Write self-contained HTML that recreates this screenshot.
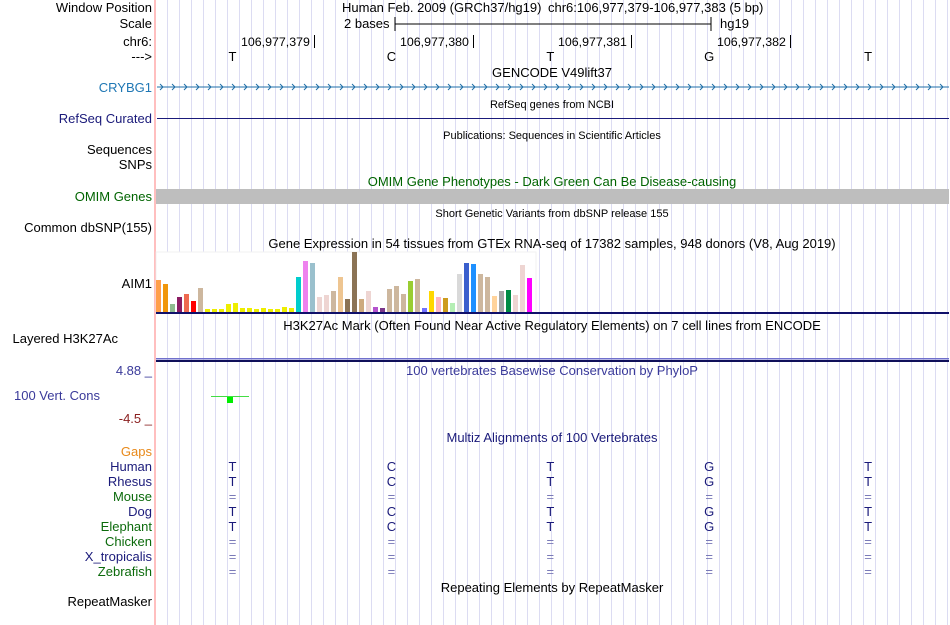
<!DOCTYPE html>
<html><head><meta charset="utf-8"><style>
html,body{margin:0;padding:0;background:#fff;}
svg{display:block;font-family:"Liberation Sans",sans-serif;}
</style></head><body>
<svg id="s" width="950" height="625">
<g id="grid"></g>
<line x1="155" y1="0" x2="155" y2="625" stroke="#ffaaaa" stroke-width="1.5"/>
<g font-size="13" text-anchor="end">
<text x="152" y="12" fill="#000">Window Position</text>
<text x="152" y="28" fill="#000">Scale</text>
<text x="152" y="46" fill="#000">chr6:</text>
<text x="152" y="61" fill="#000">---&gt;</text>
<text x="152" y="92" fill="#1f77b4">CRYBG1</text>
<text x="152" y="123" fill="#1a1a7a">RefSeq Curated</text>
<text x="152" y="154" fill="#000">Sequences</text>
<text x="152" y="169" fill="#000">SNPs</text>
<text x="152" y="201" fill="#006400">OMIM Genes</text>
<text x="152" y="232" fill="#000">Common dbSNP(155)</text>
<text x="152" y="288" fill="#000">AIM1</text>
<text x="118" y="343" fill="#000" text-anchor="end">Layered H3K27Ac</text>
<text x="152" y="375" fill="#3a3a9a">4.88 _</text>
<text x="100" y="400" fill="#3a3a9a">100 Vert. Cons</text>
<text x="152" y="423" fill="#8b2020">-4.5 _</text>
<text x="152" y="456" fill="#e8891a">Gaps</text>
<text x="152" y="471" fill="#1a1a7a">Human</text>
<text x="152" y="486" fill="#1a1a7a">Rhesus</text>
<text x="152" y="501" fill="#0b6a0b">Mouse</text>
<text x="152" y="516" fill="#1a1a7a">Dog</text>
<text x="152" y="531" fill="#0b6a0b">Elephant</text>
<text x="152" y="546" fill="#0b6a0b">Chicken</text>
<text x="152" y="561" fill="#1a1a7a">X_tropicalis</text>
<text x="152" y="576" fill="#0b6a0b">Zebrafish</text>
<text x="152" y="606" fill="#000">RepeatMasker</text>
</g>
<g font-size="13" fill="#000">
<text x="342" y="12">Human Feb. 2009 (GRCh37/hg19)</text>
<text x="548" y="12">chr6:106,977,379-106,977,383 (5 bp)</text>
<text x="344" y="28">2 bases</text>
<line x1="395" y1="24" x2="711" y2="24" stroke="#000"/>
<line x1="395" y1="17" x2="395" y2="31" stroke="#000"/>
<line x1="711" y1="17" x2="711" y2="31" stroke="#000"/>
<text x="720" y="28">hg19</text>
<g font-size="12.4">
<text x="241" y="46">106,977,379</text><line x1="314.5" y1="35" x2="314.5" y2="48" stroke="#000"/>
<text x="400" y="46">106,977,380</text><line x1="473.5" y1="35" x2="473.5" y2="48" stroke="#000"/>
<text x="558" y="46">106,977,381</text><line x1="631.5" y1="35" x2="631.5" y2="48" stroke="#000"/>
<text x="717" y="46">106,977,382</text><line x1="790.5" y1="35" x2="790.5" y2="48" stroke="#000"/>
</g>
</g>
<g id="bases" font-size="13" text-anchor="middle"></g>
<g font-size="13" text-anchor="middle">
<text x="552" y="77" fill="#000">GENCODE V49lift37</text>
<text x="552" y="108" font-size="11" fill="#000">RefSeq genes from NCBI</text>
<text x="552" y="139" font-size="11" fill="#000">Publications: Sequences in Scientific Articles</text>
<text x="552" y="186" fill="#006400">OMIM Gene Phenotypes - Dark Green Can Be Disease-causing</text>
<text x="552" y="217" font-size="11" fill="#000">Short Genetic Variants from dbSNP release 155</text>
<text x="552" y="248" fill="#000">Gene Expression in 54 tissues from GTEx RNA-seq of 17382 samples, 948 donors (V8, Aug 2019)</text>
<text x="552" y="330" fill="#000">H3K27Ac Mark (Often Found Near Active Regulatory Elements) on 7 cell lines from ENCODE</text>
<text x="552" y="375" fill="#3a3a9a">100 vertebrates Basewise Conservation by PhyloP</text>
<text x="552" y="442" fill="#1a1a7a">Multiz Alignments of 100 Vertebrates</text>
<text x="552" y="592" fill="#000">Repeating Elements by RepeatMasker</text>
</g>
<line x1="157" y1="87" x2="949" y2="87" stroke="#1f6fa8"/>
<g id="chev" stroke="#1f6fa8" fill="none"></g>
<line x1="157" y1="118.5" x2="949" y2="118.5" stroke="#1a1a7a"/>
<rect x="156" y="189" width="793" height="15" fill="#bebebe"/>
<rect x="156" y="252" width="380" height="61" fill="#fff" stroke="#f2f2f2"/>
<g id="gtex"></g>
<rect x="156" y="312" width="793" height="2" fill="#10106a"/>
<rect x="156" y="358" width="793" height="1.5" fill="#7070cc"/>
<rect x="156" y="360" width="793" height="2" fill="#10105a"/>
<line x1="211" y1="396.5" x2="249" y2="396.5" stroke="#44dd44"/>
<rect x="227" y="397" width="6" height="6" fill="#00ee00"/>
<g id="aln" font-size="13" text-anchor="middle"></g>
</svg>
<script>
const NS="http://www.w3.org/2000/svg";
const baseSeq=["T","C","T","G","T"];
const species=["Human","Rhesus","Mouse","Dog","Elephant","Chicken","X_tropicalis","Zebrafish"];
const speciesAln=["TCTGT","TCTGT","=====","TCTGT","TCTGT","=====","=====","====="];
const gtexValues=[32,28,8,15,18,11,24,3,3,3,8,9,4,4,3,4,3,3,5,4,35,51,49,15,17,21,35,13,60,13,21,5,4,23,26,18,31,33,4,21,15,14,9,38,49,48,38,35,16,21,22,17,47,34];
const gtexColors=["#ff9e4a","#f0960a","#8fbc8f","#8b1c62","#ee6a50","#ff0000","#cdb79e","#eeee00","#eeee00","#eeee00","#eeee00","#eeee00","#eeee00","#eeee00","#eeee00","#eeee00","#eeee00","#eeee00","#eeee00","#eeee00","#00cdcd","#ee82ee","#9ac0cd","#eed5d2","#eed5d2","#cdb79e","#eec591","#8b7355","#8b7355","#cdaa7d","#eed5d2","#b452cd","#7a378b","#cdb79e","#cdb79e","#cdb79e","#9acd32","#cdb79e","#7171ff","#ffd700","#ffb6c1","#cd9b1d","#b4eeb4","#d9d9d9","#3a5fcd","#1e90ff","#cdb79e","#cdb79e","#ffd39b","#a6a6a6","#008b45","#eed5d2","#eed5d2","#ff00ff"];
const s=document.getElementById("s");
function mk(t,a,p){const e=document.createElementNS(NS,t);for(const k in a)e.setAttribute(k,a[k]);(p||s).appendChild(e);return e;}
const g=document.getElementById("grid");
for(let x=167.5;x<950;x+=12){const l=mk("line",{x1:x,y1:0,x2:x,y2:625,stroke:"#dcdcf2"},g);

}
const bx=i=>232.5+i*158.9;
const bg=document.getElementById("bases");
baseSeq.forEach((b,i)=>{const t=mk("text",{x:bx(i),y:61,fill:"#000"},bg);t.textContent=b;

});
const cg=document.getElementById("chev");
for(let x=160;x<946;x+=12){const p=mk("path",{d:"M"+x+" 84 L"+(x+3)+" 87 L"+x+" 90"},cg);

}
const gg=document.getElementById("gtex");
const maxV=60,baseY=312,hPx=60;
gtexValues.forEach((v,i)=>{const h=v/maxV*hPx;const r=mk("rect",{x:156+i*7,y:baseY-h,width:5,height:h,fill:gtexColors[i]},gg);

});
const ag=document.getElementById("aln");
speciesAln.forEach((row,r)=>{for(let i=0;i<row.length;i++){const c=row[i];const t=mk("text",{x:bx(i),y:471+r*15,fill:c==="="?"#7a7ab8":"#1a1a7a"},ag);t.textContent=c;

}});
</script>
</body></html>
